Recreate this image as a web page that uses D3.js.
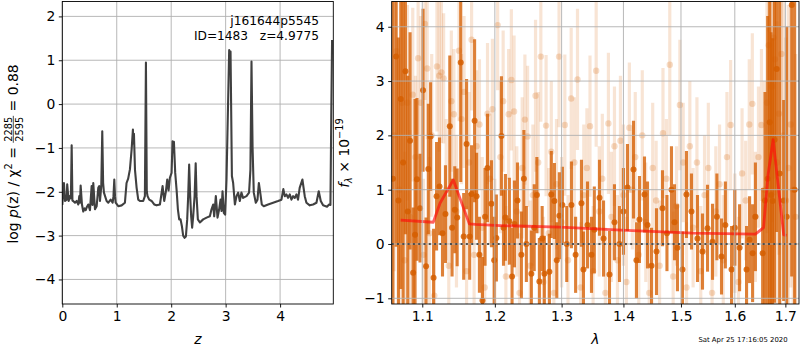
<!DOCTYPE html>
<html>
<head>
<meta charset="utf-8">
<script src="https://cdn.jsdelivr.net/npm/d3@7"></script>
<style>
  body { margin: 0; background: #fff; }
  text { font-family: "DejaVu Sans", sans-serif; }
</style>
</head>
<body>
<svg id="fig" width="800" height="350"></svg>
<script>
// ---- redshift probability: log p(z) along the z grid ----
const zGrid = [0.0,0.03,0.05,0.08,0.09,0.117,0.14,0.158,0.172,0.186,0.20,0.233,0.264,0.294,0.312,0.325,0.337,0.361,0.385,0.41,0.43,0.447,0.477,0.508,0.539,0.555,0.569,0.60,0.631,0.661,0.679,0.692,0.716,0.734,0.75,0.765,0.814,0.845,0.888,0.925,0.94,0.955,0.968,0.98,1.028,1.09,1.15,1.18,1.21,1.242,1.273,1.297,1.306,1.316,1.335,1.365,1.395,1.426,1.486,1.517,1.536,1.552,1.566,1.596,1.64,1.688,1.732,1.793,1.842,1.872,1.903,1.927,1.952,1.976,2.007,2.025,2.04,2.05,2.074,2.10,2.123,2.147,2.172,2.196,2.22,2.245,2.27,2.294,2.312,2.33,2.349,2.367,2.385,2.404,2.43,2.45,2.466,2.49,2.527,2.587,2.65,2.71,2.741,2.771,2.79,2.82,2.851,2.881,2.906,2.925,2.943,2.967,2.991,3.016,3.065,3.078,3.09,3.115,3.138,3.17,3.20,3.23,3.26,3.29,3.32,3.383,3.43,3.455,3.475,3.495,3.517,3.554,3.585,3.61,3.64,3.664,3.70,3.78,3.872,3.963,4.025,4.06,4.086,4.117,4.147,4.178,4.209,4.239,4.27,4.30,4.33,4.36,4.41,4.453,4.484,4.545,4.606,4.668,4.71,4.747,4.79,4.862,4.90,4.925,4.94,4.955];
const logPz = [-2.30,-1.80,-2.21,-2.18,-1.83,-2.21,-2.10,-2.15,-0.94,-2.20,-2.21,-2.25,-2.21,-2.29,-2.10,-2.25,-1.86,-2.29,-2.45,-2.38,-2.42,-2.36,-2.29,-2.42,-1.87,-2.30,-1.80,-2.40,-2.33,-1.91,-1.87,-2.21,-1.87,-0.62,-1.80,-2.02,-2.21,-2.25,-2.18,-2.25,-2.10,-1.72,-2.10,-2.25,-2.33,-2.31,-2.25,-1.80,-1.70,-1.49,-1.04,-0.58,-0.90,-0.68,-1.50,-1.91,-2.18,-2.21,-2.21,-2.10,0.95,-2.00,-2.10,-2.18,-2.21,-2.29,-2.31,-2.29,-1.87,-2.21,-1.99,-1.72,-1.97,-1.68,-1.57,-0.85,-1.10,-0.86,-1.57,-1.97,-2.40,-2.63,-2.63,-2.78,-3.00,-3.05,-3.02,-2.63,-2.10,-1.38,-2.10,-2.56,-2.82,-2.56,-2.10,-1.35,-2.10,-2.63,-2.70,-2.63,-2.59,-2.56,-2.40,-2.29,-2.56,-2.10,-2.59,-2.40,-2.18,-2.44,-1.99,-2.48,-2.52,-1.72,1.23,1.02,1.20,-1.64,-1.80,-2.29,-2.10,-2.02,-2.21,-2.02,-2.14,-2.10,-2.02,-1.50,0.97,-1.00,-2.02,-2.25,-2.18,-1.80,-2.06,-2.29,-2.33,-2.29,-2.25,-2.21,-2.18,-1.94,-2.10,-2.06,-2.14,-2.06,-2.18,-2.10,-2.14,-2.06,-2.18,-1.91,-1.72,-2.10,-2.25,-2.31,-2.29,-2.25,-1.99,-2.21,-2.31,-2.34,-2.29,-2.30,-0.30,1.46];
const zTicks = [0, 1, 2, 3, 4];
const pzTicks = [-4, -3, -2, -1, 0, 1, 2];

// ---- spectrum: binned points (strong) ----
const waveBin = [1.062,1.066,1.069,1.072,1.075,1.078,1.081,1.084,1.088,1.0905,1.093,1.097,1.101,1.105,1.108,1.111,1.115,1.119,1.123,1.127,1.131,1.1369,1.140,1.1437,1.147,1.1519,1.156,1.160,1.1643,1.167,1.1712,1.174,1.178,1.1823,1.186,1.1894,1.1951,1.199,1.2022,1.2095,1.2125,1.2153,1.2211,1.225,1.2285,1.233,1.2388,1.2425,1.2462,1.2537,1.258,1.262,1.2658,1.270,1.2734,1.2811,1.284,1.2888,1.2925,1.2965,1.3012,1.308,1.3154,1.322,1.3313,1.3345,1.341,1.3474,1.352,1.3604,1.367,1.3768,1.385,1.3934,1.400,1.4068,1.417,1.422,1.4272,1.4358,1.441,1.448,1.4566,1.4671,1.475,1.483,1.4884,1.4937,1.5027,1.5099,1.519,1.530,1.5392,1.5485,1.5578,1.566,1.5747,1.582,1.5938,1.600,1.6092,1.6227,1.6286,1.6345,1.640,1.6543,1.659,1.6643,1.6683,1.6713,1.6743,1.678,1.6824,1.6885,1.6966,1.7027,1.713,1.719];
const fluxBin = [1.20,3.45,0.80,2.67,1.50,3.18,0.60,1.90,-0.53,0.17,1.19,0.66,2.83,-0.41,1.38,1.98,-0.62,0.88,1.06,0.20,0.55,2.17,0.30,0.63,0.49,3.34,0.14,1.84,0.14,0.92,2.27,0.88,-0.20,-1.04,0.50,1.40,0.74,-0.30,0.11,1.99,0.30,0.49,0.42,-0.60,0.37,0.80,-0.20,1.20,0.00,-0.55,0.30,0.90,-0.69,0.10,-0.55,-0.51,0.91,0.79,-0.30,0.52,0.72,0.00,0.72,-0.20,0.75,-0.47,0.35,-0.20,0.26,0.85,0.10,-0.56,0.40,0.00,0.60,1.04,1.37,-0.30,0.45,0.91,0.35,-0.40,-0.14,0.66,0.20,1.00,0.40,-0.07,-0.47,0.91,0.60,0.10,-0.14,0.29,0.04,0.50,-0.23,0.35,-0.47,0.30,-0.07,-0.47,0.08,-0.17,0.50,-0.17,0.80,1.20,2.24,0.90,0.79,1.92,3.22,1.30,0.80,0.50,4.40,1.00];
const errBin = [4.0,3.5,3.0,3.5,3.2,3.0,2.5,2.0,1.2,2.5,1.5,1.0,1.5,0.9,1.2,1.0,0.9,1.0,0.9,0.8,0.9,1.3,0.9,0.8,0.9,2.2,0.8,1.2,0.8,0.9,1.5,0.8,0.7,0.8,0.9,1.0,0.8,0.8,0.8,1.1,0.7,0.8,0.8,0.9,0.8,0.7,0.8,0.9,0.7,0.8,0.8,0.7,0.8,0.6,0.7,0.7,0.8,0.7,0.7,0.8,0.7,0.7,0.8,0.7,0.8,0.7,0.8,0.7,0.8,0.7,0.7,0.8,0.7,0.7,0.8,0.8,0.9,0.7,0.8,0.7,0.8,0.7,0.8,0.7,0.7,0.8,0.7,0.8,0.7,0.8,0.7,0.8,0.7,0.8,0.7,0.8,0.7,0.8,0.8,0.7,0.8,0.8,0.8,0.9,1.0,1.2,2.0,3.0,3.5,3.0,3.0,3.0,3.0,3.2,1.85,3.5,5.0,3.5];

// ---- spectrum: individual pixels (faint) ----
const wavePix = [1.0635,1.0665,1.0700,1.0735,1.0770,1.0805,1.0840,1.0875,1.0910,1.0945,1.0980,1.1015,1.1035,1.1065,1.1095,1.1125,1.1160,1.1195,1.1225,1.1255,1.1285,1.1320,1.1355,1.1390,1.1425,1.1460,1.1495,1.1530,1.1565,1.1600,1.1635,1.1670,1.1705,1.1740,1.1780,1.1820,1.1855,1.1895,1.1930,1.1965,1.2000,1.2040,1.2080,1.2120,1.2160,1.2200,1.2240,1.2280,1.2320,1.2360,1.2400,1.2440,1.2480,1.2520,1.2560,1.2600,1.2640,1.2680,1.2720,1.2760,1.2800,1.2840,1.2880,1.2920,1.2960,1.3000,1.3050,1.3100,1.3150,1.3200,1.3250,1.3300,1.3350,1.3400,1.3450,1.3500,1.3550,1.3600,1.3650,1.3700,1.3750,1.3800,1.3850,1.3900,1.3950,1.4000,1.4050,1.4100,1.4150,1.4200,1.4260,1.4320,1.4380,1.4440,1.4500,1.4560,1.4620,1.4680,1.4740,1.4800,1.4860,1.4920,1.4980,1.5040,1.5100,1.5160,1.5220,1.5290,1.5360,1.5430,1.5500,1.5570,1.5640,1.5710,1.5780,1.5850,1.5920,1.6000,1.6070,1.6140,1.6210,1.6280,1.6340,1.6400,1.6460,1.6520,1.6580,1.6630,1.6665,1.6700,1.6730,1.6760,1.6790,1.6830,1.6870,1.6920,1.6960,1.7010,1.7060,1.7110,1.7160,1.7210];
const fluxPix = [2.0,3.55,1.0,2.6,-0.3,2.6,0.5,2.75,1.6,3.42,2.6,-0.2,4.05,3.23,0.2,2.0,-0.95,3.27,3.10,3.16,3.05,1.0,-0.4,2.63,2.39,0.6,3.56,2.3,2.8,-0.5,1.5,3.76,-0.2,1.8,2.2,0.3,-0.8,2.4,1.2,2.48,0.0,4.03,1.6,2.63,-0.6,2.39,3.02,2.44,0.6,-0.9,1.4,2.29,1.98,-0.4,0.9,2.73,1.5,3.45,-0.7,2.18,0.2,1.7,-0.9,1.1,3.45,0.4,2.19,-0.3,2.68,1.5,3.03,-0.8,0.9,1.4,2.17,-0.5,3.19,0.6,1.2,-0.9,2.22,0.5,1.8,-0.3,1.9,0.9,-0.7,2.14,1.0,1.6,-0.2,2.0,0.4,-0.9,1.4,0.8,-0.4,2.04,1.2,3.30,-0.6,0.7,2.56,1.5,-0.8,1.8,0.3,1.5,-0.5,0.9,1.4,-0.9,0.6,1.1,-0.3,1.6,2.19,0.2,-0.7,1.3,0.8,2.2,2.58,0.5,1.6,2.19,1.0,2.6,3.66,3.95,2.9,3.80,3.40,1.5,2.4,3.50,2.0,0.8,1.4,2.2,1.0,0.5];
const errPix = [2.5,2.0,2.5,2.2,2.0,1.8,1.6,1.6,1.5,1.4,1.6,1.4,1.4,1.3,1.4,1.5,1.2,1.2,1.4,1.3,1.2,1.3,1.3,1.3,1.2,1.4,1.3,1.2,1.4,1.2,1.3,1.3,1.2,1.4,1.2,1.3,1.2,1.3,1.2,1.3,1.2,1.2,1.4,1.3,1.3,1.2,1.3,1.4,1.2,1.1,1.3,1.2,1.3,1.2,1.3,1.4,1.3,1.2,1.2,1.3,1.2,1.3,1.2,1.2,1.3,1.2,1.3,1.2,1.3,1.2,1.3,1.2,1.3,1.1,1.3,1.2,1.4,1.2,1.2,1.2,1.3,1.2,1.1,1.2,1.2,1.3,1.2,1.2,1.1,1.2,1.2,1.2,1.1,1.2,1.2,1.1,1.2,1.2,1.1,1.3,1.2,1.1,1.2,1.1,1.2,1.2,1.1,1.2,1.2,1.1,1.2,1.1,1.2,1.1,1.2,1.2,1.2,1.1,1.2,1.2,1.1,1.2,1.3,1.2,1.3,1.4,2.0,2.4,2.5,2.5,2.5,2.6,2.5,2.6,2.6,2.8,3.0,3.0,3.0,3.0,3.0,3.0];

// ---- best-fit model at z=4.9775 ----
const modelWave = [1.0719,1.1146,1.1236,1.1417,1.1638,1.1727,1.2075,1.2979,1.4051,1.5224,1.6400,1.6561,1.6650,1.6752,1.6966,1.7025];
const modelFlux = [0.44,0.40,0.75,1.18,0.37,0.36,0.34,0.31,0.25,0.20,0.18,0.30,1.27,1.92,0.17,0.16];

const lamTicks = [1.1, 1.2, 1.3, 1.4, 1.5, 1.6, 1.7];
const fluxTicks = [-1, 0, 1, 2, 3, 4];

const ORANGE = "#D55E00";
const GRID = "#b0b0b0";
const FS = 13.9;

const svg = d3.select("#fig");

// ---------- left panel ----------
const L = { left: 62.3, right: 333.3, top: 1.5, bottom: 304 };
const xZ = d3.scaleLinear().domain([0, 4.9775]).range([L.left, L.right]);
const yP = d3.scaleLinear().domain([-4.56, 2.34]).range([L.bottom, L.top]);

svg.append("clipPath").attr("id", "clipL").append("rect")
  .attr("x", L.left).attr("y", L.top).attr("width", L.right - L.left).attr("height", L.bottom - L.top);

const gL = svg.append("g");
gL.append("g").selectAll("line").data(zTicks).join("line")
  .attr("x1", d => xZ(d)).attr("x2", d => xZ(d)).attr("y1", L.top).attr("y2", L.bottom)
  .attr("stroke", GRID).attr("stroke-width", 0.9);
gL.append("g").selectAll("line").data(pzTicks).join("line")
  .attr("x1", L.left).attr("x2", L.right).attr("y1", d => yP(d)).attr("y2", d => yP(d))
  .attr("stroke", GRID).attr("stroke-width", 0.9);

const pzLine = d3.line().x((d, i) => xZ(zGrid[i])).y(d => yP(d));
gL.append("path").datum(logPz).attr("d", pzLine).attr("clip-path", "url(#clipL)")
  .attr("fill", "none").attr("stroke", "#404040").attr("stroke-width", 2.1).attr("stroke-linejoin", "round");

gL.append("g").attr("transform", `translate(0,${L.bottom})`)
  .call(d3.axisBottom(xZ).tickValues(zTicks).tickFormat(d3.format("d")).tickSizeOuter(0).tickSize(3.5).tickPadding(3.5));
gL.append("g").attr("transform", `translate(${L.left},0)`)
  .call(d3.axisLeft(yP).tickValues(pzTicks).tickFormat(d => d < 0 ? "\u2212" + Math.abs(d) : d).tickSizeOuter(0).tickSize(3.5).tickPadding(3.5));
gL.append("rect").attr("x", L.left).attr("y", L.top).attr("width", L.right - L.left).attr("height", L.bottom - L.top)
  .attr("fill", "none").attr("stroke", "#000").attr("stroke-width", 0.9);

gL.append("text").attr("x", 319).attr("y", 25).attr("text-anchor", "end").attr("font-size", 12.2).text("j161644p5545");
gL.append("text").attr("x", 319).attr("y", 40).attr("text-anchor", "end").attr("font-size", 12.2)
  .attr("xml:space", "preserve").text("ID=1483   z=4.9775");

gL.append("text").attr("x", (L.left + L.right) / 2).attr("y", 344).attr("text-anchor", "middle")
  .attr("font-size", FS).attr("font-style", "italic").text("z");

// ---------- right panel ----------
const R = { left: 391.7, right: 799, top: 1.5, bottom: 304 };
const xL = d3.scaleLog().domain([1.0604, 1.728]).range([R.left, R.right]);
const yF = d3.scaleLinear().domain([-1.105, 4.465]).range([R.bottom, R.top]);

svg.append("clipPath").attr("id", "clipR").append("rect")
  .attr("x", R.left).attr("y", R.top).attr("width", R.right - R.left).attr("height", R.bottom - R.top);

const gR = svg.append("g");
const data = gR.append("g").attr("clip-path", "url(#clipR)");

// faint individual pixels
const pix = wavePix.map((w, i) => ({ w, f: fluxPix[i], e: errPix[i] }));
data.append("g").selectAll("line").data(pix).join("line")
  .attr("x1", d => xL(d.w)).attr("x2", d => xL(d.w))
  .attr("y1", d => yF(d.f - d.e)).attr("y2", d => yF(d.f + d.e))
  .attr("stroke", ORANGE).attr("stroke-opacity", 0.17).attr("stroke-width", 3.2);
data.append("g").selectAll("circle").data(pix).join("circle")
  .attr("cx", d => xL(d.w)).attr("cy", d => yF(d.f)).attr("r", 3.2)
  .attr("fill", ORANGE).attr("fill-opacity", 0.22);

// binned points
const bin = waveBin.map((w, i) => ({ w, f: fluxBin[i], e: errBin[i] }));
data.append("g").selectAll("line").data(bin).join("line")
  .attr("x1", d => xL(d.w)).attr("x2", d => xL(d.w))
  .attr("y1", d => yF(d.f - d.e)).attr("y2", d => yF(d.f + d.e))
  .attr("stroke", ORANGE).attr("stroke-opacity", 0.78).attr("stroke-width", 3.1);
data.append("g").selectAll("circle").data(bin).join("circle")
  .attr("cx", d => xL(d.w)).attr("cy", d => yF(d.f)).attr("r", 3)
  .attr("fill", ORANGE).attr("fill-opacity", 0.85);

// grid
gR.append("g").selectAll("line").data(lamTicks).join("line")
  .attr("x1", d => xL(d)).attr("x2", d => xL(d)).attr("y1", R.top).attr("y2", R.bottom)
  .attr("stroke", GRID).attr("stroke-width", 0.9);
gR.append("g").selectAll("line").data(fluxTicks).join("line")
  .attr("x1", R.left).attr("x2", R.right).attr("y1", d => yF(d)).attr("y2", d => yF(d))
  .attr("stroke", GRID).attr("stroke-width", 0.9);

// model
const modelLine = d3.line().x((d, i) => xL(modelWave[i])).y(d => yF(d));
data.append("path").datum(modelFlux).attr("d", modelLine)
  .attr("fill", "none").attr("stroke", "#ff0a0a").attr("stroke-opacity", 0.65).attr("stroke-width", 2.8)
  .attr("stroke-linejoin", "round");

// zero level
data.append("line").attr("x1", R.left).attr("x2", R.right).attr("y1", yF(0)).attr("y2", yF(0))
  .attr("stroke", "#000").attr("stroke-width", 2).attr("stroke-dasharray", "2,3.3");

gR.append("g").attr("transform", `translate(0,${R.bottom})`)
  .call(d3.axisBottom(xL).tickValues(lamTicks).tickFormat(d3.format(".1f")).tickSizeOuter(0).tickSize(3.5).tickPadding(3.5));
gR.append("g").attr("transform", `translate(${R.left},0)`)
  .call(d3.axisLeft(yF).tickValues(fluxTicks).tickFormat(d => d < 0 ? "\u2212" + Math.abs(d) : d).tickSizeOuter(0).tickSize(3.5).tickPadding(3.5));
gR.append("rect").attr("x", R.left).attr("y", R.top).attr("width", R.right - R.left).attr("height", R.bottom - R.top)
  .attr("fill", "none").attr("stroke", "#000").attr("stroke-width", 0.9);

gR.append("text").attr("x", (R.left + R.right) / 2).attr("y", 344).attr("text-anchor", "middle")
  .attr("font-size", FS).attr("font-style", "italic").text("\u03bb");

gR.append("text").attr("x", 743).attr("y", 342).attr("text-anchor", "middle").attr("font-size", 6.9)
  .text("Sat Apr 25 17:16:05 2020");

// axis styling
svg.selectAll(".tick text").attr("font-size", FS).attr("font-family", "DejaVu Sans, sans-serif").attr("fill", "#000");
svg.selectAll(".tick line").attr("stroke", "#000").attr("stroke-width", 0.9);
svg.selectAll(".domain").remove();

// ---------- rotated y labels built from pieces ----------
function rotatedLabel(cx, cy, pieces) {
  const g = svg.append("g");
  let x = 0;
  pieces.forEach(p => {
    if (p.frac) {
      const n = g.append("text").attr("font-size", p.size).text(p.num);
      const d = g.append("text").attr("font-size", p.size).text(p.den);
      const w = Math.max(n.node().getComputedTextLength(), d.node().getComputedTextLength()) + 2;
      n.attr("x", x + w / 2).attr("y", -5.6).attr("text-anchor", "middle");
      d.attr("x", x + w / 2).attr("y", 5.2).attr("text-anchor", "middle");
      g.append("line").attr("x1", x).attr("x2", x + w).attr("y1", -4.2).attr("y2", -4.2)
        .attr("stroke", "#000").attr("stroke-width", 0.7);
      x += w;
    } else {
      const t = g.append("text").attr("font-size", p.size || FS).attr("x", x).attr("y", p.dy || 0)
        .attr("xml:space", "preserve").text(p.t);
      if (p.italic) t.attr("font-style", "italic");
      x += t.node().getComputedTextLength();
    }
  });
  g.attr("transform", `translate(${cx},${cy}) rotate(-90) translate(${-x / 2},0)`);
}

rotatedLabel(17.5, 154, [
  { t: "log " },
  { t: "p", italic: true },
  { t: "(z) / \u03c7" },
  { t: "2", size: 9.8, dy: -5.5 },
  { t: " = " },
  { frac: true, num: "2285", den: "2595", size: 9.8 },
  { t: " = 0.88" }
]);

rotatedLabel(349, 153, [
  { t: "f", italic: true },
  { t: "\u03bb", italic: true, size: 9.8, dy: 3 },
  { t: " \u00d7 10" },
  { t: "\u221219", size: 9.8, dy: -6 }
]);
</script>
</body>
</html>
